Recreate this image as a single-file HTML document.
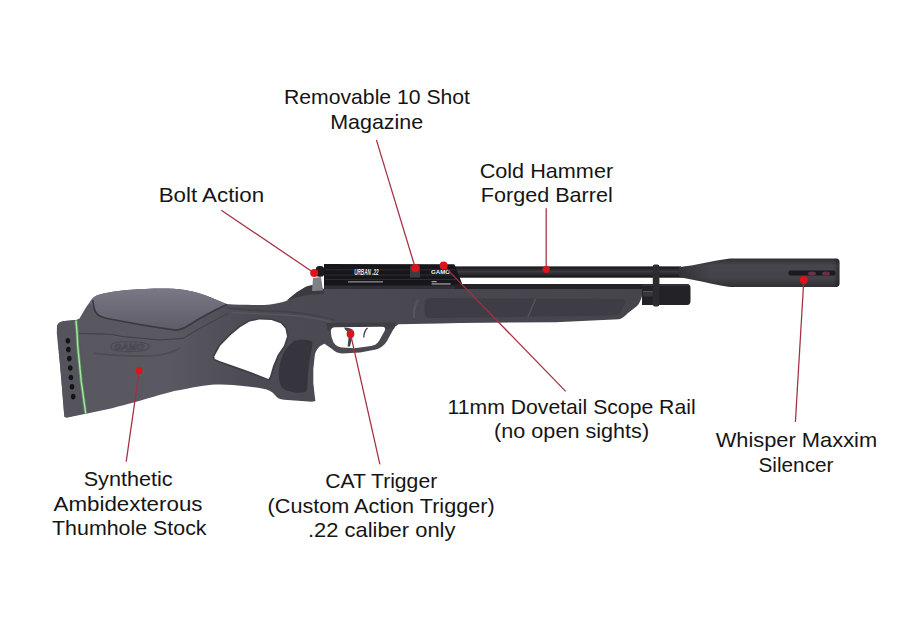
<!DOCTYPE html>
<html>
<head>
<meta charset="utf-8">
<style>
html,body{margin:0;padding:0;background:#fff;}
body{width:901px;height:644px;overflow:hidden;position:relative;}
svg{position:absolute;left:0;top:0;}
.t{font-family:"Liberation Sans",sans-serif;font-size:21px;fill:#151515;}
</style>
</head>
<body>
<svg width="901" height="644" viewBox="0 0 901 644">
<defs>
<linearGradient id="stockG" gradientUnits="userSpaceOnUse" x1="57" y1="0" x2="645" y2="0">
<stop offset="0" stop-color="#58575f"/>
<stop offset="0.19" stop-color="#5a5963"/>
<stop offset="0.27" stop-color="#525159"/>
<stop offset="0.33" stop-color="#4c4b53"/>
<stop offset="0.46" stop-color="#4b4a52"/>
<stop offset="0.67" stop-color="#48474f"/>
<stop offset="1" stop-color="#46454c"/>
</linearGradient>
<linearGradient id="combG" x1="0" y1="0" x2="0" y2="1">
<stop offset="0" stop-color="#7a7885"/>
<stop offset="1" stop-color="#5d5c67"/>
</linearGradient>
<linearGradient id="silG" x1="0" y1="0" x2="0" y2="1">
<stop offset="0" stop-color="#303035"/>
<stop offset="0.25" stop-color="#46464c"/>
<stop offset="0.7" stop-color="#424247"/>
<stop offset="1" stop-color="#2f2f34"/>
</linearGradient>
<linearGradient id="silH" x1="0" y1="0" x2="1" y2="0">
<stop offset="0" stop-color="#000" stop-opacity="0.25"/>
<stop offset="0.12" stop-color="#000" stop-opacity="0.1"/>
<stop offset="0.2" stop-color="#000" stop-opacity="0"/>
<stop offset="0.96" stop-color="#000" stop-opacity="0"/>
<stop offset="1" stop-color="#000" stop-opacity="0.3"/>
</linearGradient>
<linearGradient id="barG" x1="0" y1="0" x2="0" y2="1">
<stop offset="0" stop-color="#141418"/>
<stop offset="0.45" stop-color="#3a3a40"/>
<stop offset="1" stop-color="#141418"/>
</linearGradient>
</defs>

<!-- STOCK silhouette -->
<path id="stock" fill="url(#stockG)" d="M57,327 Q57.5,322 63,321.2 L76,320 L79.5,318.5 C82,314 86,307 89.5,302.5 C92,298.5 94.5,295.8 98,295 C110,291.5 125,289.5 145,289 C160,288.4 172,288.2 185,290 C198,292 212,297.5 226.5,304.1 C240,305.2 255,305 264.5,304.9 C272,304.3 280,303.5 287.8,300.5 C292,297.5 298,292 305.5,287 C308,286 310,285.3 311.7,285.3 L317,286.5 L324,289 L642,289 L642,296 C641,300 639,304 637,306 L628,313 C625,316 622,318.5 619,319.3 L555.4,322.2 L459.8,322.9 L440,323.6 L398.5,324.3 Q395,326 393,330 L387,341 Q383,347.5 376,349.5 L360,352.6 L342,353.6 Q336,353 332,349 L324.5,343.8 C321.5,345 319.5,346.5 318.2,348 C316,351 315,353 314.7,356.3 L313.3,368.9 L313.3,382.9 L314.7,395.5 L315.4,401 L311.9,401.7 L284,399.8 C280,399.5 277,398 275,395 C272.5,392 269,389.5 262,388.5 C252,387 235,384.5 215.5,384.5 C205,385 195,387 174.3,391.1 C160,394.5 145,400 112.1,408.2 L87.3,413.5 L67.1,417.5 Q64.5,417.6 64.3,415 L60.7,372.5 Z"/>

<!-- comb / cheek piece -->
<path fill="url(#combG)" d="M90,302 C92,298.5 94.5,295.8 98,295 C110,291.5 125,289.5 145,289 C160,288.4 172,288.2 185,290 C198,292 212,297.5 226.5,304.1 C215,310 200,318 190,324.5 C184,328.5 180,330.5 175,330 C160,328 130,323 105,318 C98,316.5 95,313 94,308 Z"/>
<path fill="none" stroke="#3a3942" stroke-width="1.7" d="M92.5,300 C93.5,303 93.5,306 94,308 C95,313 98,316.5 105,318 C130,323 160,328 175,330 C180,330.5 184,328.5 190,324.5 C200,318 215,310 227,304.5"/>
<path fill="none" stroke="#3f3e47" stroke-width="1" d="M79,333.5 L110,334.2 L123.3,336.6 L160,340 L183.2,338.3 L199.9,328.3 L228.2,313.3"/>

<g fill="none" stroke="#4a4953" stroke-width="1.1">
<path d="M111,347.5 C110,343 116,341.8 128,341.8 C142,341.8 149.5,343 149.3,346.5 C149,350.5 142,351.6 128,351.6 C116,351.6 111.5,350.5 111,347.5 Z"/>
<text x="129" y="350" font-family="Liberation Sans" font-size="9" font-style="italic" font-weight="bold" text-anchor="middle" textLength="30" lengthAdjust="spacingAndGlyphs" stroke-width="0.8">GAMO</text>
<path d="M94,353.4 C115,355.5 135,356.5 150,356 C162,355.5 172,353 180,348" stroke="#4d4c56" stroke-width="1.6"/>
</g>
<path fill="none" stroke="#434249" stroke-width="1.6" d="M227,308 C245,310 268,311 290,312 C305,313 320,316 335,320"/>
<path fill="none" stroke="#57565f" stroke-width="1.4" d="M232,312.5 C250,313.5 268,314.2 286,315 C302,316 318,318.5 332,322"/>
<!-- butt pad -->
<path fill="#55545d" d="M57,326 Q58,322 64,321 L76,320 L80,345 L83,381 L86,413 L67.1,417.5 L64.3,417 L60.7,372.5 L56.8,333.2 Z"/>
<path fill="none" stroke="#5c8560" stroke-width="3.2" d="M76,320.5 C77,330 77.5,338 77.7,345.7 L81.25,381.4 L85.7,413.5"/>
<path fill="none" stroke="#a6e8a0" stroke-width="1.4" d="M76,320.5 C77,330 77.5,338 77.7,345.7 L81.25,381.4 L85.7,413.5"/>
<g fill="#141416">
<ellipse cx="67.9" cy="340.7" rx="2.3" ry="2.8"/>
<ellipse cx="68.4" cy="349.6" rx="2.3" ry="2.8"/>
<ellipse cx="69.3" cy="358.6" rx="2.3" ry="2.8"/>
<ellipse cx="70.2" cy="368" rx="2.3" ry="2.8"/>
<ellipse cx="70.9" cy="377.5" rx="2.3" ry="2.8"/>
<ellipse cx="72" cy="386.8" rx="2.3" ry="2.8"/>
<ellipse cx="73.2" cy="396.6" rx="2.3" ry="2.8"/>
</g>

<!-- thumbhole -->
<path fill="none" stroke="#403f47" stroke-width="3.5" stroke-linejoin="round" d="M214.3,356.6 L220.2,345.7 L231,334.8 L240.4,327.1 L249.7,321.6 L259,319.6 L271.4,320.1 L280.7,323.2 L285.4,328.6 L287,336.4 L283.9,345.7 L277.6,355 L273,365.9 L269.9,376.8 L268.3,379.1 L259,375.2 L246.6,370.6 L231,365.1 L220.2,361.2 L214.8,358.9 Z"/>
<path fill="#fff" d="M214.3,356.6 L220.2,345.7 L231,334.8 L240.4,327.1 L249.7,321.6 L259,319.6 L271.4,320.1 L280.7,323.2 L285.4,328.6 L287,336.4 L283.9,345.7 L277.6,355 L273,365.9 L269.9,376.8 L268.3,379.1 L259,375.2 L246.6,370.6 L231,365.1 L220.2,361.2 L214.8,358.9 Z"/>

<!-- grip panel -->
<path fill="#36353d" d="M294,341 C298,339.8 305,339.4 310.5,340.5 Q313,341.5 312.2,346 L309.3,361.9 L307.8,375.9 L307.2,389 Q307,392 303,392.5 L297,392.8 Q284,391 281.5,387 Q278.5,381 278.7,374 Q279.5,364 281.6,358 Q284,351 287.6,347 Z"/>

<path fill="#3f3e46" d="M326,323 L396,322.5 L394,329 L328,331 Z"/>
<!-- trigger guard opening -->
<path fill="#fff" d="M330.8,331 Q331,327.6 335,327.3 L382,326.7 Q386.2,327 384.8,330.5 L379,341 Q376.5,345 371,346 L354.4,348.3 L342,347.6 Q336.5,346.8 333.6,342.5 Q330.8,337.5 330.8,331 Z"/>
<path fill="#45444b" d="M344,327.5 Q352,327.5 353.5,331 Q354,334 352,338 L350,346.5 L347.6,346.5 L348.6,337 Q349.3,332 345.5,330 Z"/>
<path fill="none" stroke="#8c8c92" stroke-width="0.8" d="M352.5,331.5 Q352.8,334.5 351,339"/>
<path fill="none" stroke="#3a3940" stroke-width="1.3" d="M367.5,328 Q364,331 363.8,337.5"/>

<!-- forend panel -->
<path fill="#3e3d45" d="M431,298 L623,299 Q626.5,299.5 625,303 L621,311.5 Q619,315 614,315.5 L431,318 Q424.5,318 424.5,312 L424.5,304 Q424.5,298 431,298 Z"/>
<line x1="535.8" y1="298.5" x2="527.8" y2="317" stroke="#55545d" stroke-width="1.4"/>
<path fill="none" stroke="#56555e" stroke-width="2" d="M418,300 Q413,308 414,318"/>

<path fill="#3b3a41" d="M286,301 L296.6,292.3 L305.5,287 L311.7,285.3 L317,286.5 L324,289 L324,294 L310,294.5 L298,297 Z"/>
<!-- barrel -->
<rect x="450" y="266.4" width="231" height="11.3" fill="url(#barG)"/>
<!-- receiver -->
<path fill="#17171b" d="M324,264 L454.3,264.3 L461.9,283 L461.9,289 L324,289 Z"/>
<g stroke="#34343a" stroke-width="0.8">
<line x1="325" y1="269.8" x2="455" y2="269.8"/>
<line x1="325" y1="275" x2="455" y2="275"/>
<line x1="325" y1="279.5" x2="458" y2="279.5"/>
</g>
<rect x="324" y="285.5" width="137" height="3.5" fill="#2e2e34"/>
<rect x="410" y="265.5" width="10" height="12" fill="#3c3c42"/>
<text x="366.4" y="274.7" font-family="Liberation Sans" font-size="8.6" font-weight="bold" font-style="italic" fill="#e4e4e8" text-anchor="middle" textLength="24.4" lengthAdjust="spacingAndGlyphs">URBAN .22</text>
<rect x="348" y="281.2" width="35" height="1.3" fill="#8a8a90"/>
<text x="440.6" y="273.5" font-family="Liberation Sans" font-size="6" font-weight="bold" fill="#f0f0f2" text-anchor="middle" textLength="19" lengthAdjust="spacingAndGlyphs">GAMO</text>
<rect x="431.6" y="281" width="5" height="1.3" fill="#a0a0a6"/>
<rect x="431.6" y="283.3" width="19" height="1.3" fill="#a0a0a6"/>
<!-- air cylinder -->
<path fill="#232327" d="M455,284 L687,284 Q690.5,284 690.5,288 L690.5,301 Q690.5,305 687,305 L642,305 L642,289 L455,289 Z"/>
<rect x="642" y="284.5" width="47" height="1.2" fill="#3a3a40"/>
<rect x="643" y="291" width="10" height="5.5" rx="1" fill="#36363c"/>
<rect x="643" y="291" width="10" height="1" fill="#55555b"/>
<!-- band -->
<rect x="652.8" y="264.5" width="6.6" height="42" rx="2" fill="#2b2b30"/>

<!-- silencer -->
<path fill="url(#silG)" d="M679,267.2 C 696,265.5 712,261 730,258.6 L836,258.5 Q839.5,258.5 839.5,262 L839.5,283.5 Q839.5,286.9 836,286.9 L730,286.9 C 712,284.8 696,279.5 679,277.6 Z"/>
<path fill="url(#silH)" d="M679,267.2 C 696,265.5 712,261 730,258.6 L836,258.5 Q839.5,258.5 839.5,262 L839.5,283.5 Q839.5,286.9 836,286.9 L730,286.9 C 712,284.8 696,279.5 679,277.6 Z"/>
<rect x="788.5" y="270.5" width="47" height="5" rx="2" fill="#1a1a1f"/>
<ellipse cx="812" cy="273.5" rx="4" ry="2" fill="#6a3048"/>
<ellipse cx="826" cy="273.5" rx="4" ry="2" fill="#6a3048"/>

<!-- bolt -->
<path fill="#7f7f86" d="M313,278 L321,277 L323,290.5 L312,291 Z"/>
<rect x="315.7" y="266.1" width="8.5" height="10.7" rx="3.5" fill="#1c1c20"/>

<!-- red pointer lines -->
<g stroke="#a32f40" stroke-width="1.25" fill="none">
<line x1="221.3" y1="210.2" x2="314.2" y2="273"/>
<line x1="376.4" y1="139.9" x2="415.3" y2="268"/>
<line x1="546.2" y1="208.3" x2="546.2" y2="269.3"/>
<line x1="443.6" y1="265.6" x2="565.7" y2="391.4"/>
<line x1="803.8" y1="280" x2="795.4" y2="421.9"/>
<line x1="350.5" y1="333.9" x2="379.9" y2="464.4"/>
<line x1="139.2" y1="370.9" x2="126.2" y2="461.7"/>
</g>
<g fill="#dc151d">
<circle cx="314.2" cy="273" r="4"/>
<circle cx="415.3" cy="268" r="4"/>
<circle cx="546.2" cy="269.3" r="3.6"/>
<circle cx="443.6" cy="265.6" r="4"/>
<circle cx="803.8" cy="280" r="4"/>
<circle cx="350.5" cy="333.9" r="3.9"/>
<circle cx="139.1" cy="370.8" r="3.5"/>
</g>

<!-- labels -->
<g class="t" text-anchor="middle">
<text x="377" y="104" textLength="186" lengthAdjust="spacingAndGlyphs">Removable 10 Shot</text>
<text x="376.7" y="128.8" textLength="93" lengthAdjust="spacingAndGlyphs">Magazine</text>
<text x="546.4" y="177.8" textLength="133.5" lengthAdjust="spacingAndGlyphs">Cold Hammer</text>
<text x="546.8" y="202.1" textLength="132" lengthAdjust="spacingAndGlyphs">Forged Barrel</text>
<text x="211.4" y="201.6" textLength="105.5" lengthAdjust="spacingAndGlyphs">Bolt Action</text>
<text x="571.6" y="413.8" textLength="248" lengthAdjust="spacingAndGlyphs">11mm Dovetail Scope Rail</text>
<text x="571.6" y="438.3" textLength="155" lengthAdjust="spacingAndGlyphs">(no open sights)</text>
<text x="796.4" y="446.8" textLength="161.5" lengthAdjust="spacingAndGlyphs">Whisper Maxxim</text>
<text x="796" y="471.5" textLength="75" lengthAdjust="spacingAndGlyphs">Silencer</text>
<text x="381.2" y="488.1" textLength="112" lengthAdjust="spacingAndGlyphs">CAT Trigger</text>
<text x="381.1" y="512.6" textLength="227" lengthAdjust="spacingAndGlyphs">(Custom Action Trigger)</text>
<text x="381.7" y="537.2" textLength="147.5" lengthAdjust="spacingAndGlyphs">.22 caliber only</text>
<text x="128.2" y="485.7" textLength="89" lengthAdjust="spacingAndGlyphs">Synthetic</text>
<text x="128" y="510.6" textLength="149" lengthAdjust="spacingAndGlyphs">Ambidexterous</text>
<text x="129.3" y="535.1" textLength="154.5" lengthAdjust="spacingAndGlyphs">Thumhole Stock</text>
</g>
</svg>
</body>
</html>
